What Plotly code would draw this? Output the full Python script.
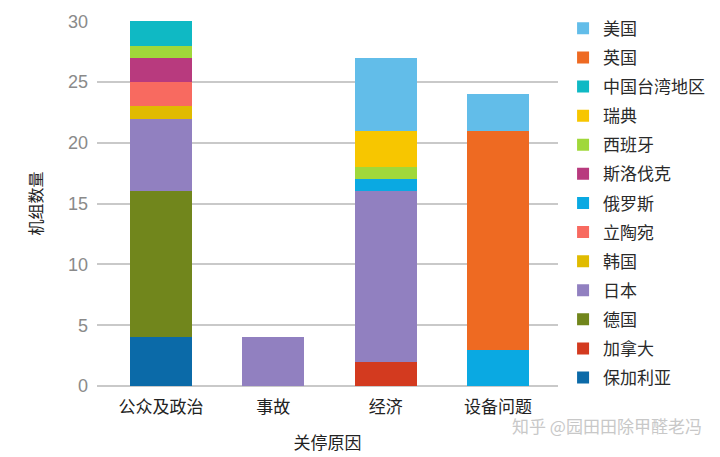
import plotly.graph_objects as go

categories = ["公众及政治", "事故", "经济", "设备问题"]

# stack order bottom -> top
series_names = ["保加利亚", "加拿大", "德国", "日本", "韩国", "立陶宛", "俄罗斯",
                "斯洛伐克", "西班牙", "瑞典", "中国台湾地区", "英国", "美国"]
bulgaria = [4, 0, 0, 0]
canada = [0, 0, 2, 0]
germany = [12, 0, 0, 0]
japan = [6, 4, 14, 0]
korea = [1, 0, 0, 0]
lithuania = [2, 0, 0, 0]
russia = [0, 0, 1, 3]
slovakia = [2, 0, 0, 0]
spain = [1, 0, 1, 0]
sweden = [0, 0, 3, 0]
taiwan = [2, 0, 0, 0]
uk = [0, 0, 0, 18]
usa = [0, 0, 6, 3]
series_values = [bulgaria, canada, germany, japan, korea, lithuania, russia,
                 slovakia, spain, sweden, taiwan, uk, usa]
colors = ["#0b6aa8", "#d33a1f", "#71861c", "#9180c0", "#e0bb00", "#f86a60", "#0aa9e2",
          "#b83a7e", "#a0d83a", "#f7c600", "#0fb9c4", "#ee6a22", "#62bde9"]

y_ticks = [0, 5, 10, 15, 20, 25, 30]

cjk = "Noto Sans CJK SC"

fig = go.Figure()
n = len(series_names)
for i, (name, vals, col) in enumerate(zip(series_names, series_values, colors)):
    fig.add_trace(go.Bar(
        x=categories, y=vals, name=name, marker=dict(color=col, line=dict(width=0)),
        width=0.55, legendgroup=name, legendrank=n - i,
    ))

fig.update_layout(
    barmode="stack",
    width=720, height=457,
    margin=dict(l=97, r=162, t=21, b=71, autoexpand=False),
    plot_bgcolor="white", paper_bgcolor="white",
    showlegend=True,
    legend=dict(
        traceorder="grouped", tracegroupgap=4,
        x=1.011, xanchor="left", y=1.028, yanchor="top",
        font=dict(family=cjk, size=17, color="#2a2a2a"),
        itemwidth=30, maxheight=1.0,
    ),
    xaxis=dict(
        range=[-0.57, 3.534], showgrid=False, showline=False, ticks="", automargin=False,
        tickfont=dict(family=cjk, size=17, color="#222222"),
        ticklabelstandoff=9,
        title=dict(text="关停原因", font=dict(family=cjk, size=17, color="#222222"), standoff=20),
    ),
    yaxis=dict(
        range=[0, 30.02], tickvals=y_ticks, showgrid=True, gridcolor="#c9c9c9", gridwidth=1.5,
        zeroline=True, zerolinecolor="#c9c9c9", zerolinewidth=1.5, showline=False, automargin=False,
        tickfont=dict(family="Liberation Sans", size=18, color="#8a8a8a"),
        ticklabelstandoff=8,
        title=dict(text="机组数量", font=dict(family=cjk, size=16, color="#222222"), standoff=21),
    ),
    annotations=[dict(
        text="知乎 @园田田除甲醛老冯", xref="paper", yref="paper", x=1.317, y=-0.109,
        xanchor="right", yanchor="middle", showarrow=False,
        font=dict(family=cjk, size=17, color="#c8c8c8"),
    )],
)

fig.write_html("out.html", config={"displayModeBar": False},
               post_script="document.body.style.margin='0';document.body.style.padding='0';")
